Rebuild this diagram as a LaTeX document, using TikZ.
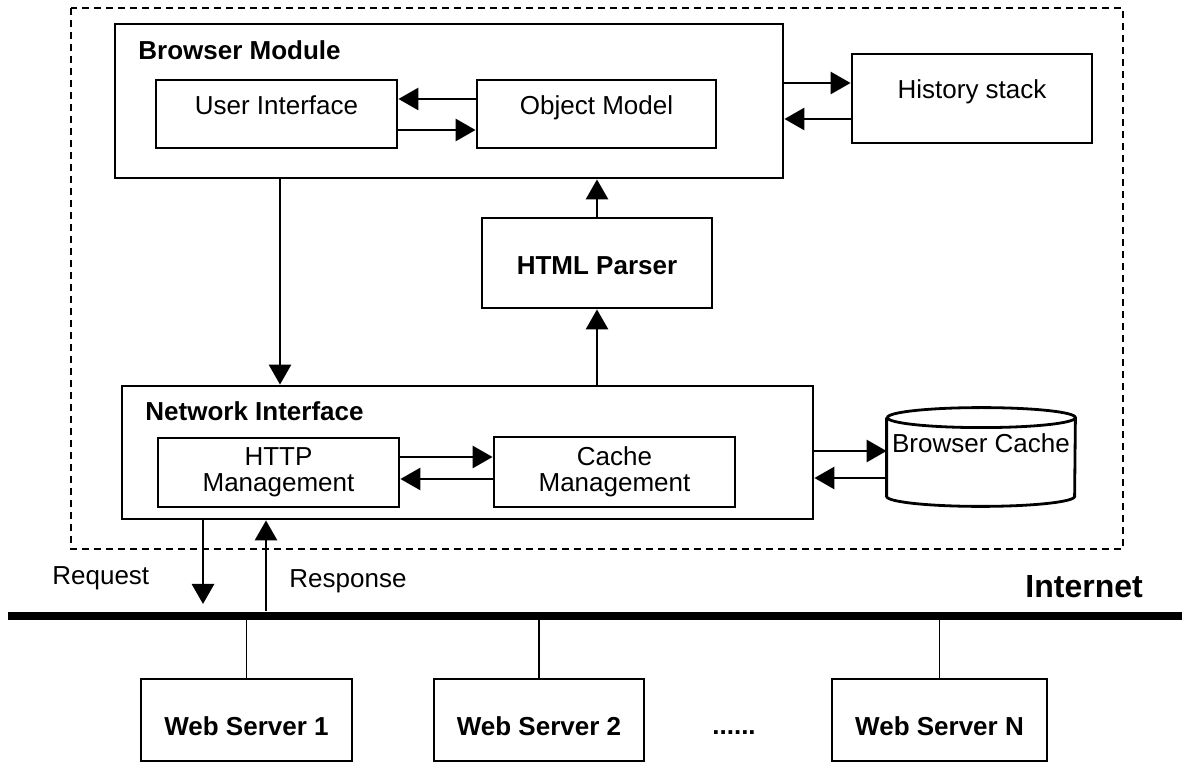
\documentclass[tikz,border=0pt]{standalone}
\usepackage{fontspec}
\setmainfont{Liberation Sans}
\usetikzlibrary{arrows.meta}

\tikzset{
	blk/.style={draw, line width=1.4pt, inner sep=0pt},
	boxtitle/.style={anchor=base west, inner sep=0pt, font=\fontsize{13pt}{13pt}\selectfont\bfseries},
	server/.style={blk, minimum height=41pt, text height=15pt, text depth=0pt, font=\fontsize{13pt}{13pt}\selectfont\bfseries},
	arr/.style={line width=1.4pt, -{Triangle[length=10pt,width=11pt]}},
	link/.style={line width=0.8pt},
	outerframe/.style={line width=1pt, dash pattern=on 3.5pt off 2.5pt},
}

\begin{document}
\begin{tikzpicture}[x=0.5pt,y=-0.5pt,font=\fontsize{13pt}{13pt}\selectfont]
	\useasboundingbox (0,0) rectangle (1182,763);
	%browser frame
	\draw[outerframe] (71,8) rectangle (1123,549);
	%browser module
	\node[blk, minimum width=334pt, minimum height=77pt] (bm) at (449,101) {};
	\node[boxtitle] (bmtitle) at (138,60) {Browser Module};
	\node[blk, minimum width=120.5pt, minimum height=34pt, text height=6pt, text depth=5pt] (ui) at (276.5,114) {User Interface};
	\node[blk, minimum width=119.5pt, minimum height=34pt, text height=6pt, text depth=5pt] (om) at (596.5,114) {Object Model};
	\draw[arr] ([yshift=7.5pt]om.west) -- ([yshift=7.5pt]om.west -| ui.east);
	\draw[arr] ([yshift=-8pt]ui.east) -- ([yshift=-8pt]ui.east -| om.west);
	%history stack
	\node[blk, minimum width=120pt, minimum height=44.5pt, text height=5pt, text depth=5pt] (hs) at (972,98.5) {History stack};
	\draw[arr] ([yshift=9pt]bm.east) -- ([yshift=9pt]bm.east -| hs.west);
	\draw[arr] ([yshift=-9pt]bm.east -| hs.west) -- ([yshift=-9pt]bm.east);
	%html parser
	\node[blk, minimum width=115pt, minimum height=45pt, text height=12pt, text depth=0pt, font=\fontsize{13pt}{13pt}\selectfont\bfseries] (html) at (597,263) {HTML Parser};
	\draw[arr] (html.north) -- (html.north |- bm.south);
	%network interface
	\node[blk, minimum width=345.5pt, minimum height=66.5pt] (ni) at (467.5,452.5) {};
	\node[boxtitle] (nititle) at (145,421) {Network Interface};
	\node[blk, minimum width=120.5pt, minimum height=34.5pt, align=center] (http) at (278.5,472.5) {HTTP\\Management};
	\node[blk, minimum width=120.5pt, minimum height=35pt, align=center] (cache) at (614.5,472) {Cache\\Management};
	\draw[arr] ([yshift=7.75pt]http.east) -- ([yshift=7.75pt]http.east -| cache.west);
	\draw[arr] ([yshift=-3.5pt]cache.west) -- ([yshift=-3.5pt]cache.west -| http.east);
	\draw[arr] ([xshift=-84.5pt]bm.south) -- ([xshift=-84.5pt]bm.south |- ni.north);
	\draw[arr] (html.south |- ni.north) -- (html.south);
	%browser cache
	\node[minimum width=94pt, minimum height=49pt, inner sep=0pt, text height=2pt, text depth=6pt] (bcache) at (981,457) {Browser Cache};
	\draw[line width=1.4pt] ([yshift=-5pt]bcache.north west) -- ([yshift=5pt]bcache.south west)
		arc[start angle=180, end angle=360, x radius=47pt, y radius=5pt]
		-- ([yshift=-5pt]bcache.north east)
		arc[start angle=0, end angle=360, x radius=47pt, y radius=5pt];
	\draw[arr] ([yshift=0.75pt]ni.east) -- ([yshift=0.75pt]ni.east -| bcache.west);
	\draw[arr] ([yshift=-12.75pt]ni.east -| bcache.west) -- ([yshift=-12.75pt]ni.east);
	%internet
	\coordinate (netL) at (8,616);
	\coordinate (netR) at (1182,616);
	\draw[line width=4pt] (netL) -- (netR);
	\node[anchor=base west, inner sep=0pt, font=\fontsize{16pt}{16pt}\selectfont\bfseries] (inet) at (1025,597) {Internet};
	%request and response
	\coordinate (reqend) at (203,604);
	\coordinate (respstart) at (266,611);
	\draw[arr] ([xshift=-132.25pt]ni.south) -- (reqend);
	\draw[arr] (respstart) -- (respstart |- ni.south);
	\node[anchor=base west, inner sep=0pt] (req) at (52,585) {Request};
	\node[anchor=base west, inner sep=0pt] (resp) at (289,588) {Response};
	%web servers
	\node[server, minimum width=105.5pt] (ws1) at (246.5,720) {Web Server 1};
	\node[server, minimum width=105pt] (ws2) at (539,720) {Web Server 2};
	\node[server, minimum width=107.5pt] (wsn) at (939.5,720) {Web Server N};
	\node[anchor=base, inner sep=0pt, font=\fontsize{13pt}{13pt}\selectfont\bfseries] (dots) at (734,734) {......};
	\draw[link] (ws1.north) -- (ws1.north |- netL);
	\draw[link] (ws2.north) -- (ws2.north |- netL);
	\draw[link] (wsn.north) -- (wsn.north |- netL);
\end{tikzpicture}
\end{document}
